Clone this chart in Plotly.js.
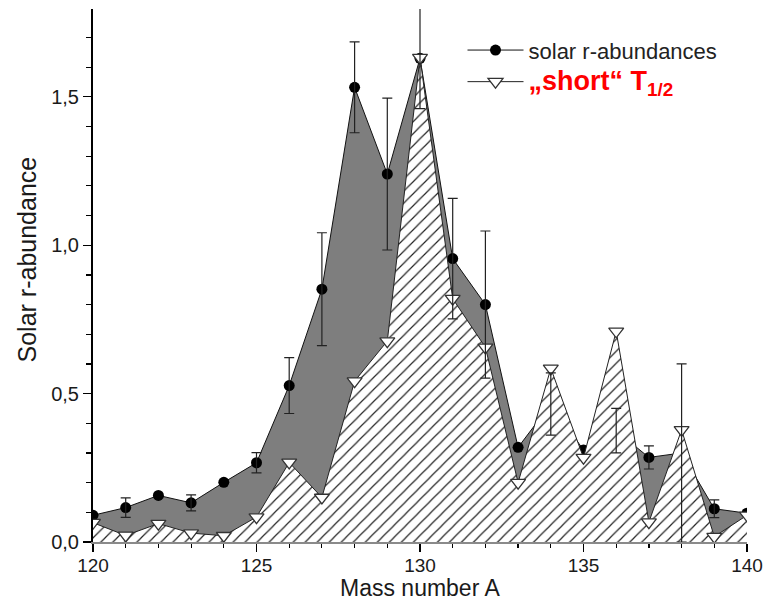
<!DOCTYPE html>
<html><head><meta charset="utf-8">
<script src="https://cdn.plot.ly/plotly-3.0.1.min.js"></script>
<style>body{margin:0;background:#fff}#chart{width:765px;height:603px}</style>
</head><body><div id="chart"></div>
<script>
// ---- data ----
const massNumbers = [120,121,122,123,124,125,126,127,128,129,130,131,132,133,134,135,136,137,138,139,140];
const solarAbundance = [0.09,0.116,0.157,0.132,0.201,0.267,0.527,0.852,1.532,1.24,1.63,0.955,0.80,0.319,0.465,0.31,0.375,0.285,0.30,0.112,0.097];
const shortHalfLife = [0.065,0.022,0.062,0.03,0.021,0.084,0.268,0.15,0.542,0.677,1.632,0.82,0.656,0.20,0.585,0.284,0.71,0.067,0.378,0.018,0.09];
const errMass = [121,123,125,126,127,128,129,130,131,132,134,136,137,138,139];
const errValue = [0.033,0.027,0.034,0.094,0.19,0.153,0.256,0.17,0.203,0.248,0.105,0.075,0.039,0.30,0.03];
const xTickVals = [120,125,130,135,140];
const yTickVals = [0,0.5,1.0,1.5];
const seriesNames = ['solar r-abundances', '„short“ T<sub>1/2</sub>'];
const axisTitles = ['Mass number A', 'Solar r-abundance'];

const errSolar = errMass.map(m => solarAbundance[massNumbers.indexOf(m)]);

const fontFam = '"Liberation Sans", Arial, sans-serif';

const traces = [
  { // grey filled area of solar abundances
    x: massNumbers, y: solarAbundance, mode: 'none', fill: 'tozeroy',
    fillcolor: '#7e7e7e', showlegend: false, hoverinfo: 'skip'
  },
  { // solar line + markers
    x: massNumbers, y: solarAbundance, mode: 'lines+markers', name: seriesNames[0],
    line: {color: '#111', width: 1},
    marker: {symbol: 'circle', size: 11, color: '#000'}
  },
  { // hatched area for short half-lives
    x: massNumbers, y: shortHalfLife, mode: 'none', fill: 'tozeroy',
    fillcolor: 'white',
    fillpattern: {shape: '/', bgcolor: 'white', fgcolor: '#222', size: 8.5, solidity: 0.14},
    showlegend: false, hoverinfo: 'skip'
  },
  { // short half-life line + markers
    x: massNumbers, y: shortHalfLife, mode: 'lines+markers',
    name: '<span style="color:#ff0000;font-size:27px"><b>' + seriesNames[1] + '</b></span>',
    line: {color: '#222', width: 1},
    marker: {symbol: 'triangle-down', size: 13, color: 'white', line: {color: '#333', width: 1.3}}
  },
  { // error bars of solar abundances
    x: errMass, y: errSolar, mode: 'markers', showlegend: false, hoverinfo: 'skip',
    marker: {size: 1, opacity: 0},
    error_y: {type: 'data', array: errValue, visible: true, color: '#222', thickness: 1.2, width: 5}
  }
];

const layout = {
  width: 765, height: 603,
  margin: {l: 93, r: 18, t: 9, b: 61},
  paper_bgcolor: 'white', plot_bgcolor: 'white',
  separators: ',.',
  font: {family: fontFam, color: '#1a1a1a'},
  showlegend: true,
  legend: {
    x: 0.565, y: 0.962, xanchor: 'left', yanchor: 'top',
    bgcolor: 'rgba(0,0,0,0)', borderwidth: 0,
    font: {size: 22, color: '#222', family: fontFam},
    itemwidth: 56, tracegroupgap: 0
  },
  xaxis: {
    range: [120, 140], tickvals: xTickVals, ticktext: xTickVals.map(String),
    ticks: 'outside', ticklen: 8, tickwidth: 1.3, tickcolor: '#000',
    minor: {dtick: 1, ticks: 'outside', ticklen: 4, tickwidth: 1.2, tickcolor: '#000'},
    showline: true, linecolor: '#8a8a8a', linewidth: 2,
    showgrid: false, zeroline: false, ticklabelstandoff: -3,
    tickfont: {size: 19, color: '#1a1a1a'}
  },
  yaxis: {
    range: [0, 1.796], tickvals: yTickVals, tickformat: '.1f',
    ticks: 'outside', ticklen: 8, tickwidth: 1.3, tickcolor: '#000',
    minor: {dtick: 0.1, ticks: 'outside', ticklen: 5, tickwidth: 1.2, tickcolor: '#000'},
    showline: true, linecolor: '#000', linewidth: 2,
    showgrid: false, zeroline: false,
    tickfont: {size: 20, color: '#1a1a1a'}
  },
  xaxis2: {
    overlaying: 'x', side: 'top', anchor: 'y', range: [120, 140], tickvals: xTickVals,
    showticklabels: false, ticks: 'inside', ticklen: 7, tickwidth: 1.3, tickcolor: '#000',
    minor: {dtick: 1, ticks: 'inside', ticklen: 5, tickwidth: 1.2, tickcolor: '#000'},
    showline: true, linecolor: '#000', linewidth: 2, showgrid: false, zeroline: false
  },
  yaxis2: {
    overlaying: 'y', side: 'right', anchor: 'x', range: [0, 1.796], tickvals: yTickVals,
    showticklabels: false, ticks: 'inside', ticklen: 9, tickwidth: 1.3, tickcolor: '#000',
    minor: {dtick: 0.1, ticks: 'inside', ticklen: 9, tickwidth: 1.2, tickcolor: '#000'},
    showline: true, linecolor: '#000', linewidth: 2, showgrid: false, zeroline: false
  },
  annotations: [{
    text: axisTitles[0], xref: 'paper', yref: 'paper',
    x: 0.5, y: -0.1125, xanchor: 'center', yanchor: 'bottom',
    showarrow: false, borderpad: 0,
    font: {size: 23, color: '#1a1a1a', family: fontFam}
  }, {
    text: axisTitles[1], xref: 'paper', yref: 'paper',
    x: -0.101, y: 0.53, xanchor: 'center', yanchor: 'middle',
    textangle: -90, showarrow: false,
    font: {size: 25, color: '#1a1a1a', family: fontFam}
  }]
};

Plotly.newPlot('chart', traces, layout, {displayModeBar: false, staticPlot: true});
</script>
</body></html>
